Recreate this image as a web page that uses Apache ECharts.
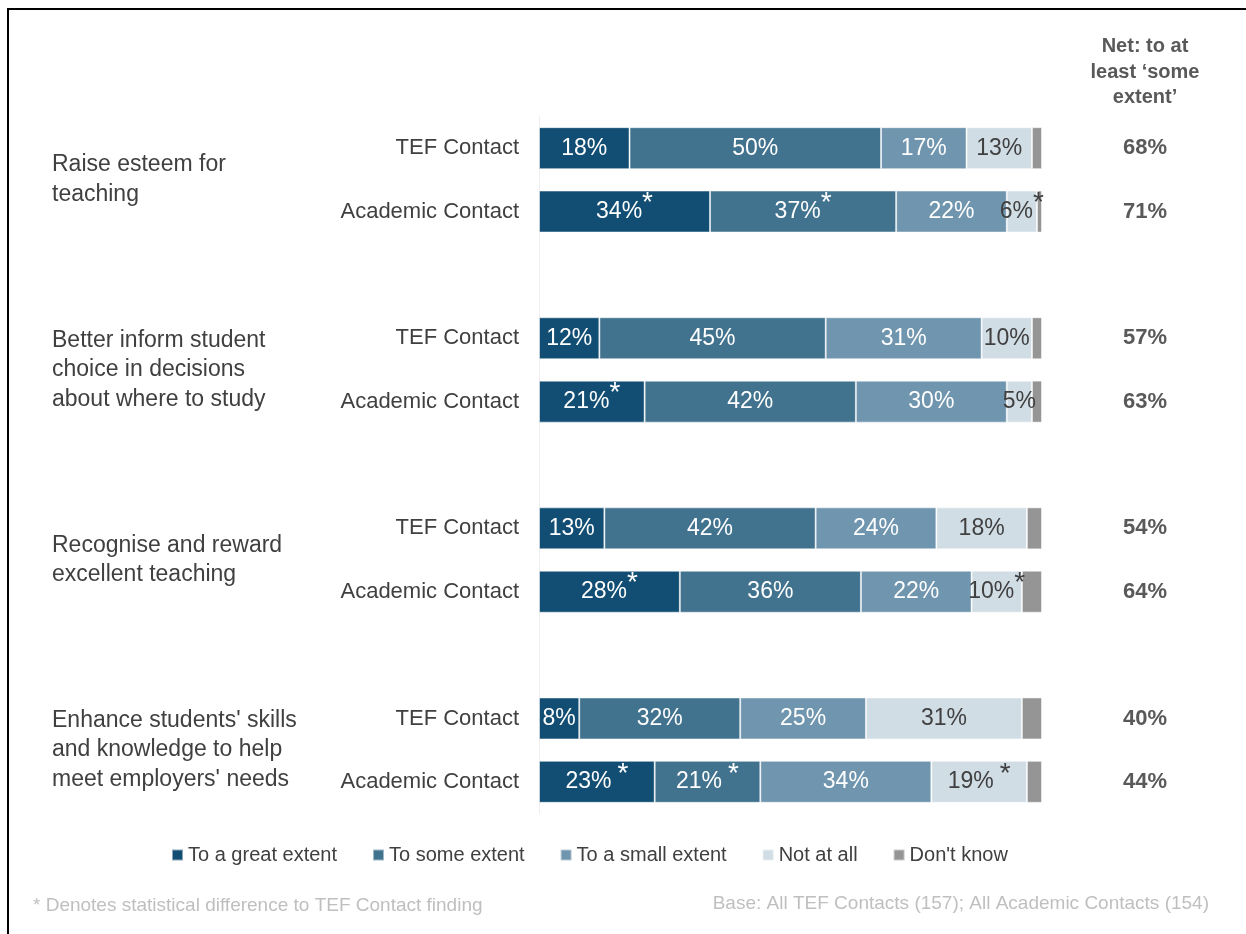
<!DOCTYPE html>
<html>
<head>
<meta charset="utf-8">
<script src="https://cdn.jsdelivr.net/npm/echarts@6/dist/echarts.min.js"></script>
<style>
  html, body { margin: 0; padding: 0; background: #ffffff; }
  #chart { width: 1246px; height: 934px; }
</style>
</head>
<body>
<div id="chart"></div>
<script>
// Statements rated, each asked of two respondent types
const groups = [
  'Raise esteem for\nteaching',
  'Better inform student\nchoice in decisions\nabout where to study',
  'Recognise and reward\nexcellent teaching',
  "Enhance students' skills\nand knowledge to help\nmeet employers' needs"
];
const respondents = ['TEF Contact', 'Academic Contact'];
const seriesNames = ['To a great extent', 'To some extent', 'To a small extent', 'Not at all', "Don't know"];

// Percentages per bar, in order: group 1 TEF, group 1 Academic, group 2 TEF, ...
const greatExtent = [18, 34, 12, 21, 13, 28, 8, 23];
const someExtent  = [50, 37, 45, 42, 42, 36, 32, 21];
const smallExtent = [17, 22, 31, 30, 24, 22, 25, 34];
const notAtAll    = [13, 6, 10, 5, 18, 10, 31, 19];
const dontKnow    = [2, 1, 2, 2, 3, 4, 4, 3];
const netSomeExtent = [68, 71, 57, 63, 54, 64, 40, 44];

// Statistically different from the TEF Contact finding (1 = marked with *)
const sigGreat    = [0, 1, 0, 1, 0, 1, 0, 1];
const sigSome     = [0, 1, 0, 0, 0, 0, 0, 1];
const sigSmall    = [0, 0, 0, 0, 0, 0, 0, 0];
const sigNotAtAll = [0, 1, 0, 0, 0, 1, 0, 1];
const sigDontKnow = [0, 0, 0, 0, 0, 0, 0, 0];

const colors = ['#124e73', '#41738f', '#7095ae', '#d0dde5', '#959595'];
const labelColors = ['#ffffff', '#ffffff', '#ffffff', '#404040', '#404040'];

// Build axis slots: two bars per group with an empty slot between groups
const slots = [];      // {row, group} or null for spacer
groups.forEach((g, gi) => {
  respondents.forEach((r, ri) => slots.push({ row: gi * 2 + ri, group: gi, name: r }));
  if (gi < groups.length - 1) slots.push(null);
});
const categories = slots.map(s => (s ? s.name : ''));

const valueSets = [greatExtent, someExtent, smallExtent, notAtAll, dontKnow];
const sigSets = [sigGreat, sigSome, sigSmall, sigNotAtAll, sigDontKnow];

const baseFont = 'Liberation Sans, Arial, sans-serif';

const series = seriesNames.map((name, si) => ({
  name: name,
  type: 'bar',
  stack: 'total',
  barWidth: 42,
  itemStyle: { color: colors[si], borderColor: 'rgba(255,255,255,0.5)', borderWidth: 1 },
  label: {
    show: si < 4,
    position: 'inside',
    color: labelColors[si],
    fontFamily: baseFont,
    formatter: p => {
      if (p.data == null || p.data.value == null) return '';
      const gap = p.data.group === 3 ? '{sp|}' : '';
      return p.data.sig ? `{v|${p.data.value}%}${gap}{s|*}` : `{v|${p.data.value}%}`;
    },
    rich: {
      v: { fontSize: 23, color: labelColors[si], fontFamily: baseFont },
      sp: { width: 6 },
      s: { fontSize: 28, padding: [0, 0, 16, 0], color: labelColors[si], fontFamily: baseFont }
    }
  },
  emphasis: { disabled: true },
  data: slots.map(s => s ? { value: valueSets[si][s.row], sig: sigSets[si][s.row], group: s.group } : '-')
}));

const chart = echarts.init(document.getElementById('chart'), null, { renderer: 'canvas' });

chart.setOption({
  animation: false,
  backgroundColor: '#ffffff',
  grid: { left: 539, right: 204, top: 116.5, height: 697, containLabel: false },
  xAxis: { type: 'value', min: 0, max: 100, show: false },
  yAxis: [
    {
      type: 'category',
      data: categories,
      inverse: true,
      axisLine: { show: true, lineStyle: { color: '#efefef', width: 1 } },
      axisTick: { show: false },
      axisLabel: { color: '#404040', fontSize: 22, fontFamily: baseFont, margin: 20 }
    },
    {
      type: 'category',
      data: categories,
      inverse: true,
      position: 'right',
      axisLine: { show: false },
      axisTick: { show: false },
      axisLabel: {
        color: '#595959', fontSize: 22, fontWeight: 'bold', fontFamily: baseFont,
        align: 'center', margin: 103,
        formatter: (v, idx) => slots[idx] ? netSomeExtent[slots[idx].row] + '%' : ''
      }
    }
  ],
  legend: {
    left: 166,
    top: 840,
    icon: 'rect',
    itemWidth: 11,
    itemHeight: 11,
    itemGap: 35,
    textStyle: { color: '#404040', fontSize: 20, fontFamily: baseFont },
    data: seriesNames
  },
  series: series
});

// Group titles centred on their pair of bars, plus header, notes and frame
const groupTexts = groups.map((g, gi) => {
  const idxA = slots.findIndex(s => s && s.row === gi * 2);
  const idxB = slots.findIndex(s => s && s.row === gi * 2 + 1);
  const yA = chart.convertToPixel({ yAxisIndex: 0 }, idxA);
  const yB = chart.convertToPixel({ yAxisIndex: 0 }, idxB);
  return {
    type: 'text',
    left: 52,
    top: (yA + yB) / 2 - (g.split('\n').length * 29.5) / 2,
    style: { text: g, fill: '#404040', font: '23px ' + baseFont, lineHeight: 29.5 }
  };
});

chart.setOption({
  graphic: [
    ...groupTexts,
    {
      type: 'text',
      x: 1145, y: 34,
      style: {
        text: 'Net: to at\nleast \u2018some\nextent\u2019',
        fill: '#595959', font: 'bold 20px ' + baseFont, lineHeight: 25.5,
        align: 'center', verticalAlign: 'top'
      }
    },
    {
      type: 'text',
      x: 33, y: 906,
      style: { text: '* Denotes statistical difference to TEF Contact finding', fill: '#bfbfbf', font: '19px ' + baseFont, verticalAlign: 'middle' }
    },
    {
      type: 'text',
      x: 1209, y: 904,
      style: { text: 'Base: All TEF Contacts (157); All Academic Contacts (154)', fill: '#bfbfbf', font: '19px ' + baseFont, align: 'right', verticalAlign: 'middle' }
    },
    {
      type: 'polyline',
      shape: { points: [[8, 934], [8, 9], [1246, 9]] },
      style: { stroke: '#000000', lineWidth: 2, fill: null }
    }
  ]
});
</script>
</body>
</html>
